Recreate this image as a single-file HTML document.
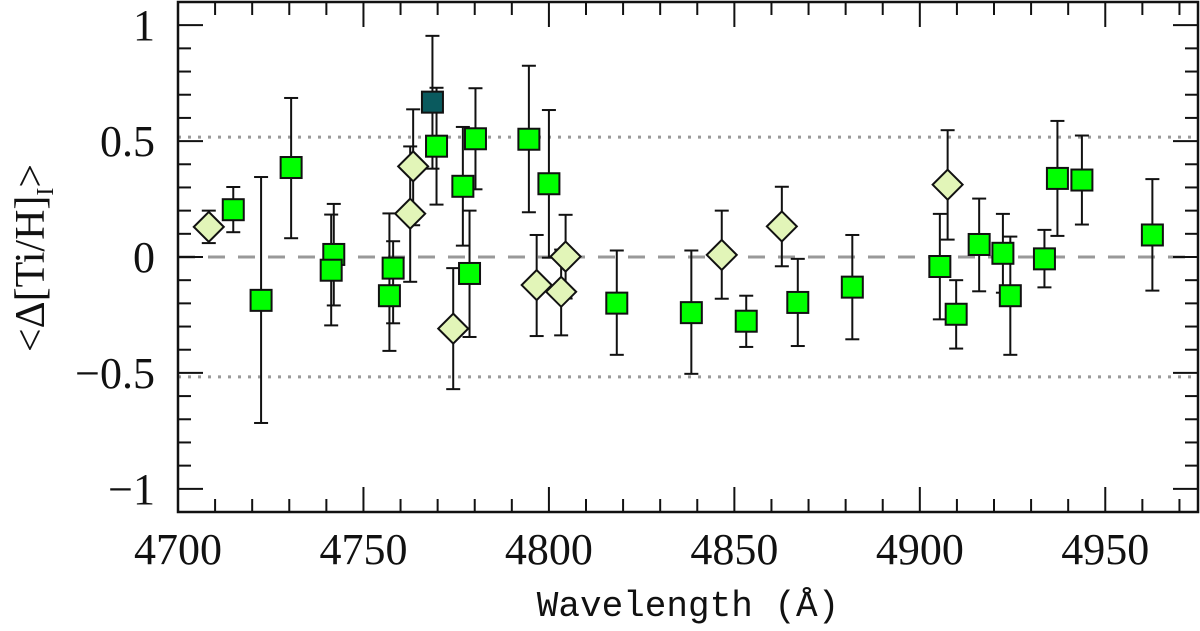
<!DOCTYPE html>
<html><head><meta charset="utf-8"><style>
html,body{margin:0;padding:0;background:#fff;}
svg{display:block;font-family:"Liberation Serif",serif;}
</style></head><body>
<svg id="chart" width="1200" height="631" viewBox="0 0 1200 631" xmlns="http://www.w3.org/2000/svg">
<g id="grid"></g>
<g id="marks"></g>
<g id="axes"></g>
<text x="688" y="616" font-size="36" font-family="Liberation Mono, monospace" text-anchor="middle" fill="#111">Wavelength (Å)</text>
<text transform="translate(44,258) rotate(-90)" font-size="42" text-anchor="middle" fill="#111">&lt;Δ[Ti/H]<tspan font-size="24" dy="9">I</tspan><tspan dy="-9">&gt;</tspan></text>
</svg>
<script>
const diamondWl = [4708.3,4762.6,4763.4,4774.2,4796.7,4803.3,4804.5,4846.6,4862.8,4907.5];
const diamondVal = [0.13,0.187,0.391,-0.309,-0.121,-0.150,0.002,0.009,0.132,0.312];
const diamondHi = [0.20,0.477,0.637,-0.048,0.095,0.032,0.182,0.20,0.303,0.547];
const diamondLo = [0.06,-0.107,0.137,-0.570,-0.341,-0.338,-0.179,-0.18,-0.04,0.075];
const squareWl = [4714.9,4722.4,4730.5,4742.0,4741.3,4758.0,4757.0,4768.6,4769.7,4780.2,4776.8,4778.6,4794.6,4800.0,4818.3,4838.4,4853.2,4867.1,4881.8,4905.4,4909.8,4916.0,4922.4,4924.4,4933.6,4937.1,4943.7,4962.7];
const squareVal = [0.204,-0.187,0.386,0.011,-0.057,-0.048,-0.167,0.668,0.478,0.510,0.305,-0.071,0.508,0.316,-0.199,-0.240,-0.277,-0.196,-0.130,-0.041,-0.247,0.054,0.016,-0.167,-0.008,0.339,0.332,0.095];
const squareHi = [0.302,0.345,0.686,0.229,0.183,0.068,0.188,0.954,0.730,0.728,0.561,0.20,0.825,0.634,0.028,0.028,-0.167,-0.008,0.095,0.186,-0.10,0.252,0.186,0.088,0.117,0.587,0.524,0.336];
const squareLo = [0.107,-0.716,0.081,-0.209,-0.295,-0.286,-0.405,0.381,0.226,0.292,0.049,-0.345,0.193,-0.003,-0.422,-0.504,-0.388,-0.384,-0.355,-0.269,-0.395,-0.148,-0.154,-0.422,-0.131,0.091,0.140,-0.145];
const squareColor = ["#00ff00","#00ff00","#00ff00","#00ff00","#00ff00","#00ff00","#00ff00","#0a5a5e","#00ff00","#00ff00","#00ff00","#00ff00","#00ff00","#00ff00","#00ff00","#00ff00","#00ff00","#00ff00","#00ff00","#00ff00","#00ff00","#00ff00","#00ff00","#00ff00","#00ff00","#00ff00","#00ff00","#00ff00"];
const xTicks = [4700,4750,4800,4850,4900,4950];
const yTicks = [-1,-0.5,0,0.5,1];
const yTickLabels = ["\u22121","\u22120.5","0","0.5","1"];

const X0=178,X1=1198,Y0=2,Y1=512,XMIN=4700,XMAX=4975,YMIN=-1.1,YMAX=1.1;
const xs=v=>X0+(v-XMIN)/(XMAX-XMIN)*(X1-X0);
const ys=v=>Y1-(v-YMIN)/(YMAX-YMIN)*(Y1-Y0);
const NS="http://www.w3.org/2000/svg";
function mk(tag,attrs,parent){const e=document.createElementNS(NS,tag);for(const k in attrs)e.setAttribute(k,attrs[k]);parent.appendChild(e);return e;}
const grid=document.getElementById('grid'),marks=document.getElementById('marks'),axes=document.getElementById('axes');

let l=mk('line',{x1:X0,x2:X1,y1:ys(0),y2:ys(0),stroke:'#999','stroke-width':3,'stroke-dasharray':'17 13'},grid);


[0.517,-0.517].forEach(v=>{
 const d=mk('line',{x1:X0,x2:X1,y1:ys(v),y2:ys(v),stroke:'#999','stroke-width':3,'stroke-dasharray':'3 7'},grid);
 
 
});

function errbar(x,hi,lo){
 const g=mk('g',{stroke:'#111','stroke-width':2},marks);
 
 
 const px=xs(x);
 mk('line',{x1:px,x2:px,y1:ys(hi),y2:ys(lo)},g);
 mk('line',{x1:px-7,x2:px+7,y1:ys(hi),y2:ys(hi)},g);
 mk('line',{x1:px-7,x2:px+7,y1:ys(lo),y2:ys(lo)},g);
}
diamondWl.forEach((w,i)=>errbar(w,diamondHi[i],diamondLo[i]));
squareWl.forEach((w,i)=>errbar(w,squareHi[i],squareLo[i]));
diamondWl.forEach((w,i)=>{
 const cx=xs(w),cy=ys(diamondVal[i]),r=15;
 const p=mk('polygon',{points:`${cx},${cy-r} ${cx+r},${cy} ${cx},${cy+r} ${cx-r},${cy}`,fill:'#e2f5b8',stroke:'#111','stroke-width':2},marks);
 
 
});
squareWl.forEach((w,i)=>{
 const cx=xs(w),cy=ys(squareVal[i]),h=10.5;
 const r=mk('rect',{x:cx-h,y:cy-h,width:2*h,height:2*h,fill:squareColor[i],stroke:'#111','stroke-width':2},marks);
 
 
});

const fr=mk('rect',{x:X0,y:Y0,width:X1-X0,height:Y1-Y0,fill:'none',stroke:'#111','stroke-width':2.5},axes);


for(let v=XMIN;v<=XMAX;v+=10){
 const maj=(v%50===0),len=maj?25:13,px=xs(v);
 mk('line',{x1:px,x2:px,y1:Y1,y2:Y1-len,stroke:'#111','stroke-width':2},axes);
 mk('line',{x1:px,x2:px,y1:Y0,y2:Y0+len,stroke:'#111','stroke-width':2},axes);
}
for(let k=-10;k<=10;k++){
 const v=k/10,maj=(k%5===0),len=maj?25:13,py=ys(v);
 mk('line',{x1:X0,x2:X0+len,y1:py,y2:py,stroke:'#111','stroke-width':2},axes);
 mk('line',{x1:X1,x2:X1-len,y1:py,y2:py,stroke:'#111','stroke-width':2},axes);
}
xTicks.forEach(v=>{
 const t=mk('text',{x:xs(v),y:564,'font-size':44,'text-anchor':'middle',fill:'#111'},axes);
 t.textContent=String(v);
 
 
});
yTicks.forEach((v,i)=>{
 const t=mk('text',{x:155,y:ys(v)+15,'font-size':44,'text-anchor':'end',fill:'#111'},axes);
 t.textContent=yTickLabels[i];
 
 
});
</script>
</body></html>
